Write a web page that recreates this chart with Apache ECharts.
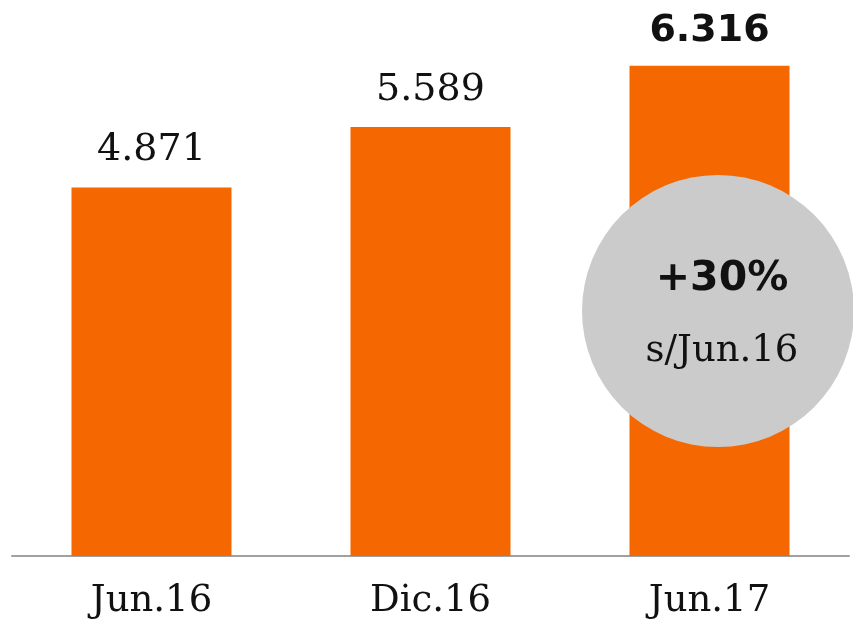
<!DOCTYPE html>
<html>
<head>
<meta charset="utf-8">
<script src="https://cdn.jsdelivr.net/npm/echarts@6/dist/echarts.min.js"></script>
<style>
  html, body { margin: 0; padding: 0; background: #fff; }
  #chart { width: 853px; height: 620px; }
</style>
</head>
<body>
<div id="chart"></div>
<script>
// data
var categories = ['Jun.16', 'Dic.16', 'Jun.17'];
var values = [4871, 5589, 6316];
var valueLabels = ['4.871', '5.589', '6.316'];
var growthText = '+30%';
var growthBase = 's/Jun.16';

var ORANGE = '#f56700';
var serif = '"DejaVu Serif", "Liberation Serif", serif';
var sans = '"DejaVu Sans", "Noto Sans", sans-serif';

var chart = echarts.init(document.getElementById('chart'));

var seriesData = values.map(function (v, i) {
    var last = i === values.length - 1;
    return {
        value: v,
        label: {
            formatter: valueLabels[i],
            fontFamily: last ? sans : serif,
            fontWeight: last ? 'bold' : 'normal',
            fontSize: 38,
            letterSpacing: last ? 0 : 3,
            distance: last ? 16 : 18
        }
    };
});

chart.setOption({
    animation: false,
    grid: {left: 12, right: 4, top: 8, bottom: 62},
    xAxis: {
        type: 'category',
        data: categories,
        axisLine: {lineStyle: {color: '#a0a0a0', width: 2}},
        axisTick: {show: false},
        axisLabel: {
            color: '#111',
            fontFamily: serif,
            fontSize: 37,
            letterSpacing: 1,
            margin: 27
        }
    },
    yAxis: {
        type: 'value',
        min: 500,
        max: 7000,
        show: false,
        splitLine: {show: false}
    },
    series: [{
        type: 'bar',
        data: seriesData,
        barWidth: 160,
        itemStyle: {color: ORANGE},
        label: {
            show: true,
            position: 'top',
            color: '#111'
        }
    }],
    graphic: [{
        type: 'group',
        left: 582,
        top: 175,
        z: 100,
        children: [{
            type: 'circle',
            shape: {cx: 136, cy: 136, r: 136},
            style: {fill: '#cbcbcb'},
            z: 100
        }, {
            type: 'text',
            x: 140,
            y: 104,
            z: 101,
            style: {
                text: growthText,
                fill: '#111',
                font: 'bold 41px ' + sans,
                textAlign: 'center',
                textVerticalAlign: 'middle'
            }
        }, {
            type: 'text',
            x: 140,
            y: 176,
            z: 101,
            style: {
                text: growthBase,
                fill: '#111',
                font: '37px ' + serif,
                textAlign: 'center',
                textVerticalAlign: 'middle'
            }
        }]
    }]
});

window.addEventListener('resize', function () {
    chart && chart.resize();
});
</script>
</body>
</html>
